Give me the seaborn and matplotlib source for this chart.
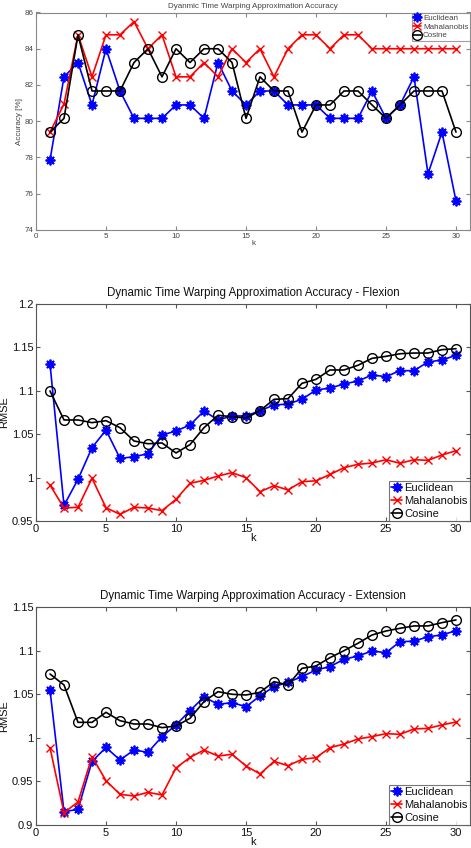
import numpy as np
import pandas as pd
import matplotlib
matplotlib.use("Agg")
import matplotlib.pyplot as plt
import seaborn as sns

# ---------------- data ----------------
k = list(range(1, 31))

acc_euclidean = [77.85, 82.45, 83.24, 80.9, 84.0, 81.67, 80.16, 80.16, 80.16, 80.9,
                 80.9, 80.16, 83.24, 81.67, 80.9, 81.67, 81.67, 80.9, 80.9, 80.9,
                 80.16, 80.16, 80.16, 81.67, 80.16, 80.9, 82.45, 77.1, 79.4, 75.6]
acc_mahalanobis = [79.4, 80.95, 84.77, 82.45, 84.77, 84.77, 85.5, 84.0, 84.77, 82.45,
                   82.45, 83.24, 82.45, 84.0, 83.24, 84.0, 82.45, 84.0, 84.77, 84.77,
                   84.0, 84.77, 84.77, 84.0, 84.0, 84.0, 84.0, 84.0, 84.0, 84.0]
acc_cosine = [79.4, 80.16, 84.77, 81.67, 81.67, 81.67, 83.24, 84.0, 82.45, 84.0,
              83.24, 84.0, 84.0, 83.24, 80.16, 82.45, 81.67, 81.67, 79.4, 80.9,
              80.9, 81.67, 81.67, 80.9, 80.16, 80.9, 81.67, 81.67, 81.67, 79.4]

flex_euclidean = [1.131, 0.968, 0.998, 1.0345, 1.0548, 1.0222, 1.024, 1.0276, 1.049, 1.0537,
                  1.0606, 1.0767, 1.0664, 1.071, 1.071, 1.0771, 1.0836, 1.0848, 1.0902, 1.1009,
                  1.1032, 1.1078, 1.1113, 1.1182, 1.1163, 1.1232, 1.1232, 1.1332, 1.1355, 1.1409]
flex_mahalanobis = [0.9915, 0.965, 0.9658, 0.9992, 0.9653, 0.9577, 0.9658, 0.965, 0.9619, 0.975,
                    0.9934, 0.9969, 1.0018, 1.0057, 0.9999, 0.9838, 0.9907, 0.9858, 0.9953, 0.9963,
                    1.0036, 1.0114, 1.0153, 1.0168, 1.0206, 1.0165, 1.0206, 1.0199, 1.026, 1.031]
flex_cosine = [1.0998, 1.0664, 1.0664, 1.0633, 1.0656, 1.0575, 1.0422, 1.039, 1.0399, 1.0284,
               1.038, 1.0575, 1.0718, 1.0702, 1.0686, 1.0771, 1.0902, 1.0909, 1.1086, 1.1132,
               1.124, 1.124, 1.1294, 1.1374, 1.1397, 1.1427, 1.1435, 1.1435, 1.1474, 1.1485]

ext_euclidean = [1.055, 0.9153, 0.918, 0.973, 0.989, 0.9747, 0.9861, 0.9835, 1.0015, 1.0149,
                 1.0313, 1.047, 1.0386, 1.0405, 1.0359, 1.0482, 1.0589, 1.0639, 1.0704, 1.078,
                 1.0819, 1.0903, 1.0941, 1.0998, 1.0979, 1.1106, 1.111, 1.1163, 1.1182, 1.1232]
ext_mahalanobis = [0.9888, 0.9142, 0.9264, 0.9785, 0.9509, 0.9352, 0.9333, 0.9375, 0.9345, 0.9655,
                   0.9777, 0.9861, 0.9792, 0.9812, 0.9678, 0.9586, 0.9731, 0.9681, 0.9754, 0.9773,
                   0.9888, 0.993, 0.9988, 1.0015, 1.0049, 1.0041, 1.0103, 1.011, 1.0149, 1.0183]
ext_cosine = [1.0734, 1.0608, 1.0179, 1.0179, 1.0294, 1.0198, 1.016, 1.016, 1.0118, 1.0137,
              1.0225, 1.0417, 1.0531, 1.0501, 1.0493, 1.0524, 1.0646, 1.0608, 1.0799, 1.0826,
              1.0922, 1.1002, 1.1087, 1.1182, 1.1228, 1.1259, 1.1286, 1.1286, 1.1324, 1.1355]

series_names = ["Euclidean", "Mahalanobis", "Cosine"]
titles = ["Dyanmic Time Warping Approximation Accuracy",
          "Dynamic Time Warping Approximation Accuracy - Flexion",
          "Dynamic Time Warping Approximation Accuracy - Extension"]
ylabels = ["Accuracy [%]", "RMSE", "RMSE"]
xticks = [0, 5, 10, 15, 20, 25, 30]
yticks_top = [74, 76, 78, 80, 82, 84, 86]
ytick_labels_top = ["74", "76", "78", "80", "82", "84", "86"]
yticks_flex = [0.95, 1.0, 1.05, 1.1, 1.15, 1.2]
ytick_labels_flex = ["0.95", "1", "1.05", "1.1", "1.15", "1.2"]
yticks_ext = [0.9, 0.95, 1.0, 1.05, 1.1, 1.15]
ytick_labels_ext = ["0.9", "0.95", "1", "1.05", "1.1", "1.15"]

# ---------------- style ----------------
sns.set_theme(style="ticks")
plt.rcParams["font.family"] = ["Liberation Sans", "DejaVu Sans"]

W, H = 471, 848
fig = plt.figure(figsize=(W / 100, H / 100), dpi=100)

def frac_rect(l, t, r, b):
    return [l / W, 1 - b / H, (r - l) / W, (b - t) / H]

ax_top = fig.add_axes(frac_rect(36, 12.5, 470, 230))
ax_mid = fig.add_axes(frac_rect(36, 304, 470, 521))
ax_bot = fig.add_axes(frac_rect(36, 607.3, 470, 825))

colors = {"Euclidean": "#0000ff", "Mahalanobis": "#ff0000", "Cosine": "#000000"}
markers = {"Euclidean": (8, 2, 0), "Mahalanobis": "x", "Cosine": "o"}

panels = [
    (ax_top, [acc_euclidean, acc_mahalanobis, acc_cosine], (74, 86), yticks_top, ytick_labels_top, "upper right"),
    (ax_mid, [flex_euclidean, flex_mahalanobis, flex_cosine], (0.95, 1.2), yticks_flex, ytick_labels_flex, "lower right"),
    (ax_bot, [ext_euclidean, ext_mahalanobis, ext_cosine], (0.9, 1.15), yticks_ext, ytick_labels_ext, "lower right"),
]

for i, (ax, vals, ylim, yt, ytl, loc) in enumerate(panels):
    small = (i == 0)
    fs = 5.8 if small else 8
    tcol = "#444444" if small else "#111111"
    scol = "#888888" if small else "#555555"
    msz = 6
    for name, v in zip(series_names, vals):
        df = pd.DataFrame({"k": k, "value": v})
        sns.lineplot(data=df, x="k", y="value", ax=ax, color=colors[name],
                     marker=markers[name], markersize=(msz + 1 if name != "Mahalanobis" else msz - 0.5),
                     markerfacecolor="none", markeredgecolor=colors[name],
                     markeredgewidth=(1.3 if name == "Euclidean" else 1.0),
                     linewidth=1.2, label=name, errorbar=None)
    ax.set_xlim(0, 31)
    ax.set_ylim(*ylim)
    ax.set_xticks(xticks)
    ax.set_xticklabels([str(t) for t in xticks])
    ax.set_yticks(yt)
    ax.set_yticklabels(ytl)
    ax.tick_params(direction="in", length=3, width=0.8, colors=scol, labelcolor=tcol,
                   labelsize=fs, pad=2, top=True, right=True)
    for sp in ax.spines.values():
        sp.set_visible(True)
        sp.set_color(scol)
        sp.set_linewidth(0.8)
    ax.set_title(titles[i], fontsize=(5.8 if small else 8.3), color=tcol, pad=(3 if small else 6))
    ax.set_xlabel("k", fontsize=fs, color=tcol, labelpad=(0 if small else -0.5))
    ax.set_ylabel(ylabels[i], fontsize=fs, color=tcol, labelpad=(1 if small else 1.5))
    leg = ax.legend(loc=loc, fontsize=fs, frameon=True, fancybox=False, borderaxespad=0,
                    handlelength=1.0, handletextpad=0.2, labelspacing=(0.15 if small else 0.25),
                    borderpad=0.2)
    leg.get_frame().set_edgecolor(scol)
    leg.get_frame().set_linewidth(0.8)
    for t in leg.get_texts():
        t.set_color(tcol)

fig.savefig("out.png", dpi=100)
